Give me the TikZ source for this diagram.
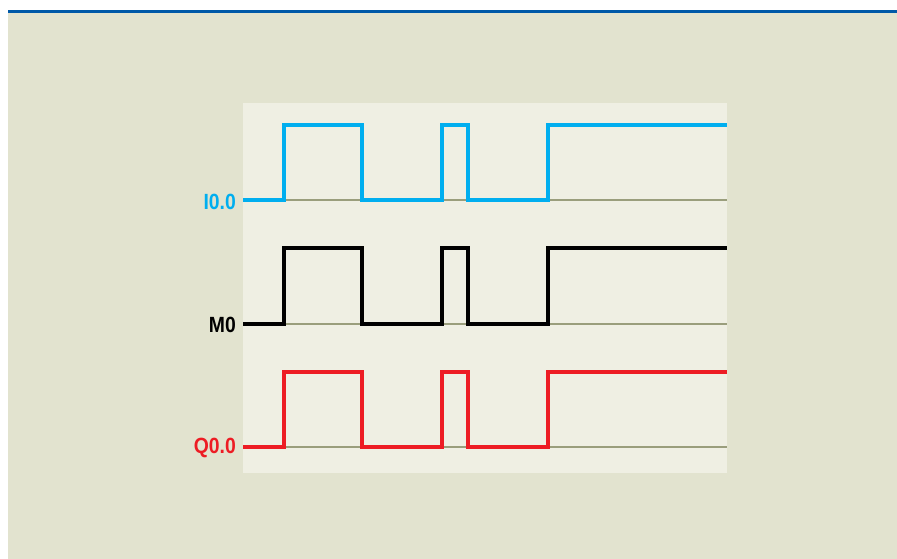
\documentclass[tikz,border=0pt]{standalone}
\usepackage{fontspec}
\setmainfont{Liberation Sans}
\newfontfamily\labelfont[FakeStretch=0.88]{Liberation Sans Bold}
\usepackage{tikz}

\definecolor{outerbg}{HTML}{E2E3CF}
\definecolor{panelbg}{HTML}{EFEFE3}
\definecolor{topline}{HTML}{0059A8}
\definecolor{baseline}{HTML}{9A9E7C}
\definecolor{sigblue}{HTML}{00AEEF}
\definecolor{sigred}{HTML}{ED1C24}

\tikzset{
  signal/.style={line width=4.3pt, line join=miter},
  zeroline/.style={draw=baseline, line width=2pt},
  siglabel/.style={anchor=east, inner sep=0pt, font=\labelfont\fontsize{22}{22}\selectfont}
}

\begin{document}
\begin{tikzpicture}[x=1pt, y=-1pt]
    \useasboundingbox (0,0) rectangle (897,559);
    \fill[white] (0,0) rectangle (897,559);
    \fill[outerbg] (8,13) rectangle (897,559);
    \fill[topline] (8,10.5) rectangle (897,13.5);

    \fill[panelbg] (243,103) rectangle (727,473);

    \draw[zeroline] (243,200) -- (727,200);
    \draw[zeroline] (243,324) -- (727,324);
    \draw[zeroline] (243,447) -- (727,447);

    % I0.0
    \draw[signal, sigblue] (243,200) -- (284,200) -- (284,125) -- (362,125) -- (362,200)
      -- (442,200) -- (442,125) -- (468,125) -- (468,200) -- (548,200) -- (548,125) -- (727,125);
    \node[siglabel, text=sigblue] (i0label) at (236,202) {I0.0};

    % M0
    \draw[signal, black] (243,324) -- (284,324) -- (284,248) -- (362,248) -- (362,324)
      -- (442,324) -- (442,248) -- (468,248) -- (468,324) -- (548,324) -- (548,248) -- (727,248);
    \node[siglabel, text=black] (m0label) at (236,325) {M0};

    % Q0.0
    \draw[signal, sigred] (243,447) -- (284,447) -- (284,372) -- (362,372) -- (362,447)
      -- (442,447) -- (442,372) -- (468,372) -- (468,447) -- (548,447) -- (548,372) -- (727,372);
    \node[siglabel, text=sigred] (q0label) at (236,448) {Q0.0};
\end{tikzpicture}
\end{document}
